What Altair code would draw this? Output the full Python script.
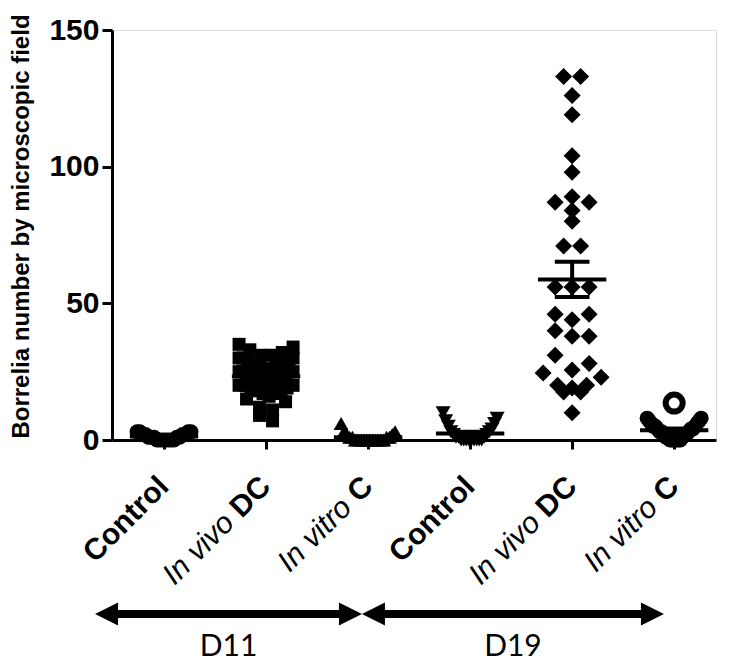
import math
import altair as alt
import pandas as pd

# ---------------- data ----------------
group_ids = ["D11 Control", "D11 In vivo DC", "D11 In vitro C",
             "D19 Control", "D19 In vivo DC", "D19 In vitro C"]
italic_parts = ["", "In vivo", "In vitro", "", "In vivo", "In vitro"]
bold_parts = ["Control", "DC", "C", "Control", "DC", "C"]
days = ["D11", "D19"]
day_start = [-0.676, 1.94]
day_end = [1.94, 4.90]

d11_control = [3, 3, 3, 3, 2, 2, 2, 2, 1, 1, 1, 1, 1, 0, 0, 0, 0, 0, 0, 0]
d11_invivo_dc = [35, 34, 33, 32, 31, 31, 30, 30, 30, 29, 29, 28, 28, 28, 27, 27, 27,
                 26, 26, 26, 25, 25, 25, 25, 24, 24, 24, 23, 23, 23, 22, 22, 22, 21,
                 21, 21, 20, 20, 20, 19, 19, 18, 18, 17, 17, 16, 15, 14, 12, 11,
                 9, 7]
d11_invitro_c = [6, 3, 3, 2, 2, 1, 1, 1, 1, 0, 0, 0, 0, 0, 0, 0, 0, 0, 0, 0]
d19_control = [10, 8, 7, 6, 5, 4, 3, 3, 2, 2, 1, 1, 1, 0, 0, 0, 0, 0, 0, 0, 0, 0]
d19_invivo_dc = [133, 133, 126, 119, 104, 98, 89, 87, 87, 84, 80, 71, 71, 56, 56, 56,
                 46, 44, 46, 38, 38, 40, 31, 28, 24.5, 25.6, 23, 17.6, 20, 19, 17.6,
                 20, 10]
d19_invitro_c = [8, 8, 7, 7, 6, 6, 5, 5, 5, 4, 4, 4, 3, 3, 3, 2, 2, 2, 1, 1, 1,
                 0, 0, 0, 0, 0, 0]
d19_invitro_c_open = [13.5]

y_ticks = [0, 50, 100, 150]
y_title = "Borrelia number by microscopic field"

# ---------------- layout / style ----------------
W, H = 604, 410
X_MIN, X_MAX = -0.51, 5.41
Y_MAX = 150
PXU = W / (X_MAX - X_MIN)
PXY = H / Y_MAX

shapes = ["circle", "square", "triangle-up", "triangle-down", "diamond", "circle"]
marker_px = [15, 13, 15, 15, 17, 15]
bin_px = [30, 14, 30, 30, 17, 30]
half_w = [27, 27, 27, 27, 29, 27]
FS = 30

# Arial/Liberation Sans advance widths (em) used to join italic + bold parts
BOLD_W = {"D": 0.722, "C": 0.722}
SPACE_W = 0.278


def row_layout(values, bh, d, maxw):
    """Prism-like scatter: points binned in rows, lowest values in the middle."""
    bins = {}
    for i, v in enumerate(values):
        b = int(math.floor(v * PXY / bh + 1e-9))
        bins.setdefault(b, []).append(i)
    offs = [0.0] * len(values)
    for b, idxs in bins.items():
        idxs.sort(key=lambda i: values[i])
        n = len(idxs)
        s = d if n < 2 else min(d, 2 * maxw / (n - 1))
        slots = [(k - (n - 1) / 2) * s for k in range(n)]
        slots.sort(key=lambda x: (round(abs(x), 6), -x))
        for i, sl in zip(idxs, slots):
            offs[i] = sl
    return offs


groups = [d11_control, d11_invivo_dc, d11_invitro_c, d19_control, d19_invivo_dc,
          d19_invitro_c + d19_invitro_c_open]
rows = []
for gi, vals in enumerate(groups):
    offs = row_layout(vals, bin_px[gi], marker_px[gi], half_w[gi])
    n_open = len(d19_invitro_c_open) if gi == 5 else 0
    for k, (v, o) in enumerate(zip(vals, offs)):
        rows.append({"grp": group_ids[gi], "idx": gi, "v": v,
                     "x": gi + o / PXU,
                     "open": k >= len(vals) - n_open})
pts = pd.DataFrame(rows)

xscale = alt.Scale(domain=[X_MIN, X_MAX], nice=False, zero=False)
yscale = alt.Scale(domain=[0, Y_MAX], nice=False, zero=False)
xaxis = alt.Axis(values=list(range(6)), labels=False, ticks=True, tickSize=9,
                 tickWidth=3, tickColor="black", domainWidth=3, domainColor="black",
                 grid=False, title=None)
yaxis = alt.Axis(values=y_ticks, labelFont="Liberation Sans", labelFontWeight="bold",
                 labelFontSize=FS, labelColor="black", labelPadding=3, tickSize=10,
                 tickWidth=3, tickColor="black", domainWidth=3, domainColor="black",
                 grid=False, title=y_title, titleFont="Liberation Sans",
                 titleFontWeight="bold", titleFontSize=24, titleColor="black",
                 titleAngle=270, titleAlign="center", titleBaseline="middle",
                 titleX=-91, titleY=196)


def X(f):
    return alt.X(f, type="quantitative", scale=xscale, axis=xaxis)


def Y(f):
    return alt.Y(f, type="quantitative", scale=yscale, axis=yaxis)


layers = []
for gi, g in enumerate(group_ids):
    sub = pts[(pts.grp == g) & (~pts.open)]
    layers.append(alt.Chart(sub).mark_point(
        shape=shapes[gi], size=marker_px[gi] ** 2, filled=True, color="black",
        opacity=1).encode(x=X("x"), y=Y("v")))

open_pts = pts[pts.open]
layers.append(alt.Chart(open_pts).mark_point(
    shape="circle", size=17 ** 2, filled=True, fill="white", stroke="black",
    strokeWidth=6, opacity=1).encode(x=X("x"), y=Y("v")))

stats = alt.Chart(pts).transform_aggregate(
    m="mean(v)", se="stderr(v)", groupby=["idx"]
).transform_calculate(
    xa="datum.idx - 0.335", xb="datum.idx + 0.335",
    ca="datum.idx - 0.17", cb="datum.idx + 0.17",
    lo="datum.m - datum.se", hi="datum.m + datum.se")
layers.append(stats.mark_rule(color="black", strokeWidth=4).encode(
    x=X("xa"), x2="xb", y=Y("m")))
layers.append(stats.mark_rule(color="black", strokeWidth=4).encode(
    x=X("ca"), x2="cb", y=Y("lo")))
layers.append(stats.mark_rule(color="black", strokeWidth=4).encode(
    x=X("ca"), x2="cb", y=Y("hi")))
layers.append(stats.mark_rule(color="black", strokeWidth=4).encode(
    x=X("idx"), y=Y("lo"), y2="hi"))

# category labels (bold part + italic part), rotated 45 degrees
lab = pd.DataFrame({"idx": list(range(6)), "b": bold_parts, "i": italic_parts})
LABEL_Y = H + 32
LDX, LDY = -7, -8
layers.append(alt.Chart(lab).mark_text(
    angle=315, align="right", baseline="top", font="Liberation Sans",
    fontWeight="bold", fontSize=FS, color="black", dx=LDX, dy=LDY).encode(
    x=X("idx"), y=alt.value(LABEL_Y), text="b:N"))
for itxt in sorted(set(t for t in italic_parts if t)):
    sub = lab[lab.i == itxt]
    bw = sum(BOLD_W[c] for c in sub.b.iloc[0]) + SPACE_W
    layers.append(alt.Chart(sub).mark_text(
        angle=315, align="right", baseline="top", font="Liberation Sans",
        fontStyle="italic", fontSize=FS, color="black", dx=LDX - bw * FS,
        dy=LDY).encode(x=X("idx"), y=alt.value(LABEL_Y), text="i:N"))

# day arrows
HEAD = 23
arr = pd.DataFrame({"day": days, "x0": day_start, "x1": day_end})
arr["mid"] = (arr.x0 + arr.x1) / 2
hu = HEAD * 0.8 / PXU
arr["r0"] = arr.x0 + hu
arr["r1"] = arr.x1 - hu
ARROW_Y = 584
DAY_Y = 626
layers.append(alt.Chart(arr).mark_rule(color="black", strokeWidth=8).encode(
    x=X("r0"), x2="r1", y=alt.value(ARROW_Y)))
layers.append(alt.Chart(arr).mark_point(
    shape="M0,0L2,-1L2,1Z", size=HEAD ** 2, filled=True, color="black",
    opacity=1).encode(x=X("x0"), y=alt.value(ARROW_Y)))
layers.append(alt.Chart(arr).mark_point(
    shape="M0,0L-2,-1L-2,1Z", size=HEAD ** 2, filled=True, color="black",
    opacity=1).encode(x=X("x1"), y=alt.value(ARROW_Y)))
layers.append(alt.Chart(arr).mark_text(
    align="center", baseline="alphabetic", font="Lato", fontSize=30,
    color="black").encode(x=X("mid"), y=alt.value(DAY_Y), text="day:N"))

chart = alt.layer(*layers).properties(
    width=W, height=H,
    autosize=alt.AutoSizeParams(type="none"),
    padding={"left": 104, "top": 22, "right": 10, "bottom": 226},
).configure_view(stroke=None).configure(background="white")

chart.save("out.html", embed_options={"renderer": "svg", "actions": False})
